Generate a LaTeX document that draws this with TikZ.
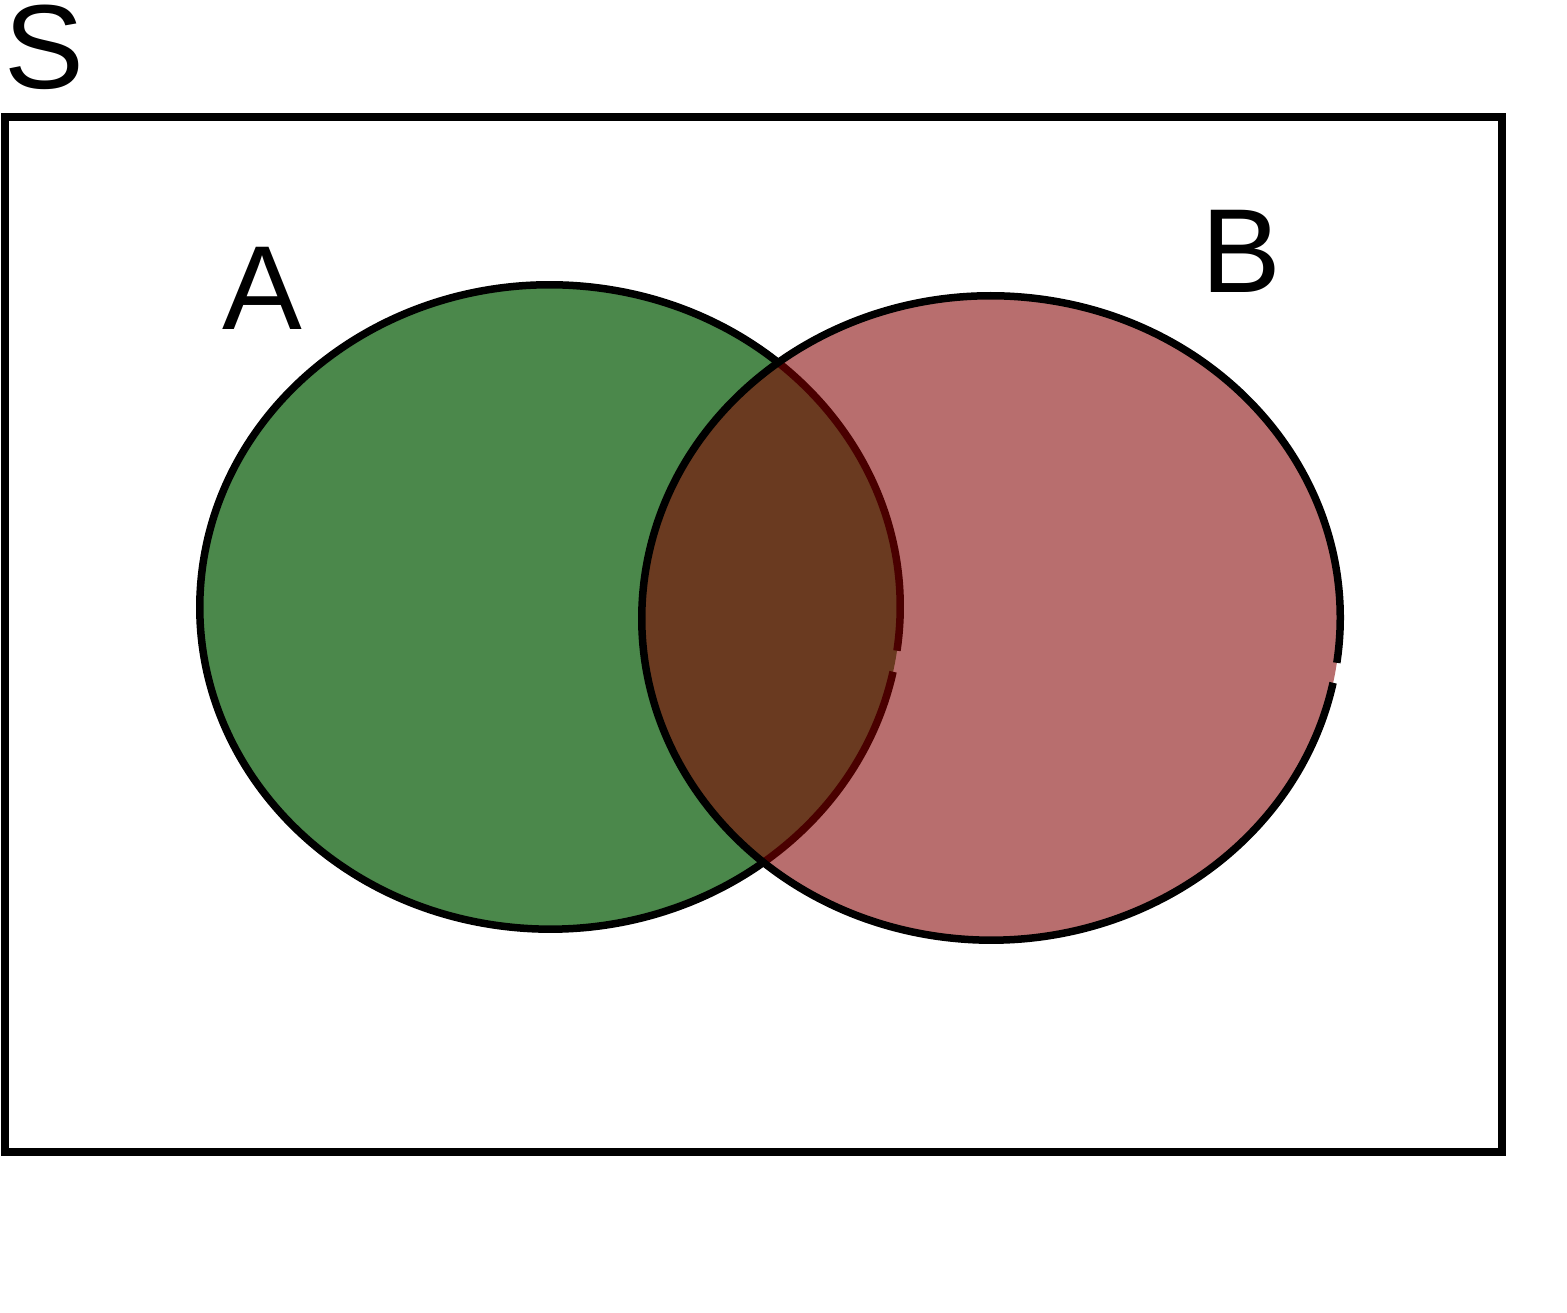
\documentclass[tikz,border=0pt]{standalone}
\usepackage{fontspec}
\setmainfont{Liberation Sans}
\definecolor{setAgreen}{HTML}{4B884B}
\definecolor{setBred}{RGB}{131,0,0}

\begin{document}
\begin{tikzpicture}[x=0.01cm,y=0.01cm]
\tikzset{
  setlabel/.style={inner sep=0pt,font=\fontsize{34}{40}\selectfont},
  setrim/.style={draw=black,line width=0.075cm},
}
\useasboundingbox (0,0) rectangle (1567,1313);
% sample space
\draw[line width=0.08cm] (5,161) rectangle (1502,1196);
\node[setlabel] (labS) at (44,1266) {S};
% set A
\fill[setAgreen] (550,706) ellipse[x radius=3.5cm,y radius=3.22cm];
\draw[setrim] (550,706) ++(-7.8:3.5cm and 3.22cm) arc[start angle=-7.8,end angle=348.4,x radius=3.5cm,y radius=3.22cm];
% set B, see-through on top of A
\fill[setBred,fill opacity=0.57] (991,695) ellipse[x radius=3.49cm,y radius=3.22cm];
\draw[setrim] (991,695) ++(-8.0:3.49cm and 3.22cm) arc[start angle=-8.0,end angle=348.4,x radius=3.49cm,y radius=3.22cm];
\node[setlabel] (labA) at (262,1025) {A};
\node[setlabel] (labB) at (1241,1062) {B};
\end{tikzpicture}
\end{document}
